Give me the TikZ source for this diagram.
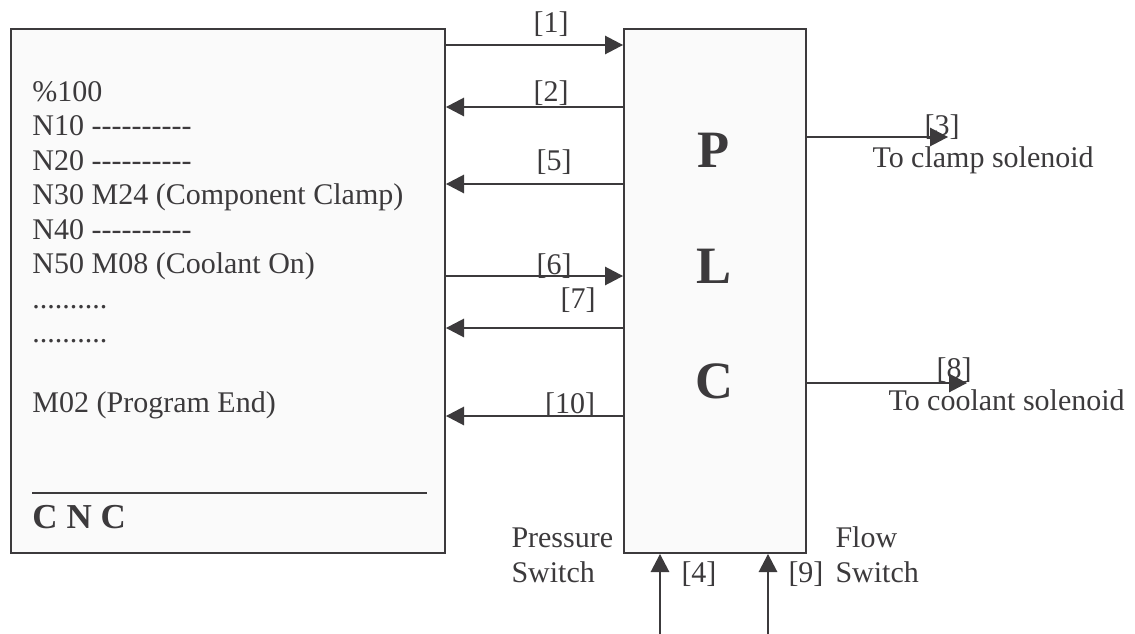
\documentclass[tikz,border=0pt]{standalone}
\usepackage{fontspec}
\setmainfont{Liberation Serif}
\usepackage{xcolor}
\definecolor{inkgray}{RGB}{60,58,60}
\definecolor{boxfill}{RGB}{250,250,250}
\usetikzlibrary{arrows.meta, positioning, calc}

\newcommand{\codedashes}{\mbox{-}\mbox{-}\mbox{-}\mbox{-}\mbox{-}\mbox{-}\mbox{-}\mbox{-}\mbox{-}\mbox{-}}

\tikzset{
  block/.style={draw=inkgray, line width=0.8pt, fill=boxfill, inner sep=0pt, anchor=north west},
  sig/.style={draw=inkgray, line width=0.5pt, -{Triangle[length=7.2pt, width=7.4pt]}},
  lbl/.style={text=inkgray, font=\fontsize{12}{13.8}\selectfont, inner sep=0pt},
  plcletter/.style={text=inkgray, font=\fontsize{21}{25}\selectfont\bfseries, inner sep=0pt, anchor=base},
}

\begin{document}
\begin{tikzpicture}[x=0.4pt, y=-0.4pt]
  \fill[white] (0,0) rectangle (1135,634);
  \useasboundingbox (0,0) rectangle (1135,634);

  % CNC and PLC blocks
  \node[block, minimum width=173.6pt, minimum height=209.6pt] (cnc) at (10,28) {};
  \node[block, minimum width=72.8pt, minimum height=209.6pt] (plc) at (623,28) {};

  % part program
  \node[lbl, anchor=north west, align=left] (prog) at (32,81) {%
    \%100\\
    N10 \codedashes\\
    N20 \codedashes\\
    N30 M24 (Component Clamp)\\
    N40 \codedashes\\
    N50 M08 (Coolant On)\\
    ..........\\
    ..........\\[14pt]
    M02 (Program End)};
  \draw[inkgray, line width=0.7pt] (32,493) -- (427,493);
  \node[text=inkgray, font=\fontsize{14}{17}\selectfont\bfseries, inner sep=0pt, anchor=base west]
    (cnclbl) at (32,528) {C N C};

  % PLC letters
  \node[plcletter] (pl) at (714,167) {P};
  \node[plcletter] (ll) at (714,283) {L};
  \node[plcletter] (cl) at (714,398) {C};

  % signals between CNC and PLC
  \coordinate (s1) at (0,45);
  \coordinate (s2) at (0,107);
  \coordinate (s5) at (0,184);
  \coordinate (s6) at (0,276);
  \coordinate (s7) at (0,328);
  \coordinate (s10) at (0,416);
  \draw[sig] (cnc.east |- s1) -- (plc.west |- s1);
  \draw[sig] (plc.west |- s2) -- (cnc.east |- s2);
  \draw[sig] (plc.west |- s5) -- (cnc.east |- s5);
  \draw[sig] (cnc.east |- s6) -- (plc.west |- s6);
  \draw[sig] (plc.west |- s7) -- (cnc.east |- s7);
  \draw[sig] (plc.west |- s10) -- (cnc.east |- s10);
  \node[lbl, anchor=base] (l1) at (551,32) {[1]};
  \node[lbl, anchor=base] (l2) at (551,101) {[2]};
  \node[lbl, anchor=base] (l5) at (554,170) {[5]};
  \node[lbl, anchor=base] (l6) at (554,274) {[6]};
  \node[lbl, anchor=base] (l7) at (578,308) {[7]};
  \node[lbl, anchor=base] (l10) at (570,413) {[10]};

  % outputs to solenoids
  \coordinate (clamp) at (948,137);
  \coordinate (coolant) at (967,383);
  \draw[sig] (plc.east |- clamp) -- (clamp);
  \draw[sig] (plc.east |- coolant) -- (coolant);
  \node[lbl, anchor=base] (l3) at (942,135) {[3]};
  \node[lbl, anchor=base west] (clamptxt) at (872,167) {To clamp solenoid};
  \node[lbl, anchor=base] (l8) at (954,378) {[8]};
  \node[lbl, anchor=base west] (coolanttxt) at (888,410) {To coolant solenoid};

  % switch inputs
  \coordinate (pres) at (660,634);
  \coordinate (flow) at (768,634);
  \draw[sig] (pres) -- (plc.south -| pres);
  \draw[sig] (flow) -- (plc.south -| flow);
  \node[lbl, anchor=base west] (l4) at (681,582) {[4]};
  \node[lbl, anchor=base west] (l9) at (788,582) {[9]};
  \node[lbl, anchor=base west, align=left] (prestxt) at (511,582) {Pressure\\Switch};
  \node[lbl, anchor=base west, align=left] (flowtxt) at (835,582) {Flow\\Switch};

\end{tikzpicture}
\end{document}
